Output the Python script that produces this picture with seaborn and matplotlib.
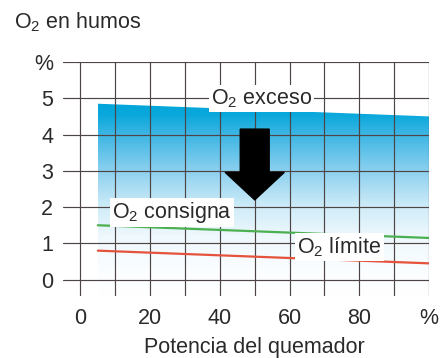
import numpy as np
import pandas as pd
import matplotlib
matplotlib.use("Agg")
import matplotlib.pyplot as plt
import matplotlib.transforms as mtransforms
from matplotlib.colors import LinearSegmentedColormap
import seaborn as sns

# ---- data ----
potencia = [5, 100]
o2_exceso = [4.85, 4.5]
o2_consigna = [1.5, 1.15]
o2_limite = [0.8, 0.45]
x_ticks = [0, 20, 40, 60, 80, 100]
x_tick_labels = ["0", "20", "40", "60", "80", "%"]
y_ticks = [0, 1, 2, 3, 4, 5, 6]
y_tick_labels = ["0", "1", "2", "3", "4", "5", "%"]

sns.set_style("white")
plt.rcParams["font.family"] = ["Liberation Sans", "DejaVu Sans"]
plt.rcParams["mathtext.fontset"] = "custom"
plt.rcParams["mathtext.rm"] = "Liberation Sans"
plt.rcParams["mathtext.it"] = "Liberation Sans:italic"

FS = 15.5
TXT = "#2a2a2a"
GRID = "#4d4545"

fig = plt.figure(figsize=(4.44, 3.58), dpi=100)
ax = fig.add_axes([63 / 444, 62 / 358, (429 - 63) / 444, (296 - 62) / 358])
ax.set_xlim(-5, 100)
ax.set_ylim(-0.45, 6)

# gradient fill below O2 exceso
df_ex = pd.DataFrame({"x": potencia, "y": o2_exceso})
poly = ax.fill_between(df_ex["x"], df_ex["y"], -0.45, color="none", lw=0)
cmap = LinearSegmentedColormap.from_list(
    "blu", [(0.0, "#ffffff"), (0.14, "#fafdff"), (0.31, "#eef8fd"),
            (0.46, "#d0ecf8"), (0.65, "#8bd0ef"), (0.84, "#3cb6e4"),
            (0.94, "#0aa8dc"), (1.0, "#03a5da")])
grad = np.linspace(0, 1, 256).reshape(-1, 1)
im = ax.imshow(grad, aspect="auto", cmap=cmap, origin="lower",
               extent=[min(potencia), max(potencia), -0.45, max(o2_exceso)],
               zorder=1)
im.set_clip_path(poly.get_paths()[0], transform=ax.transData)

# grid
ax.set_xticks(x_ticks)
ax.set_xticks([10, 30, 50, 70, 90], minor=True)
ax.set_yticks(y_ticks)
ax.set_xticklabels(x_tick_labels)
ax.set_yticklabels(y_tick_labels)
ax.grid(True, which="both", color=GRID, lw=0.85)
ax.set_axisbelow(False)
for s in ax.spines.values():
    s.set_visible(False)
ax.tick_params(axis="both", which="both", length=0, labelsize=FS, colors=TXT)
ax.tick_params(axis="y", pad=7)
ax.tick_params(axis="x", pad=9)

# lines
df = pd.DataFrame({"x": potencia * 2,
                   "y": o2_consigna + o2_limite,
                   "serie": ["consigna"] * 2 + ["limite"] * 2})
sns.lineplot(data=df, x="x", y="y", hue="serie",
             palette={"consigna": "#4cb050", "limite": "#e5533d"},
             lw=1.6, legend=False, ax=ax, zorder=3)
ax.set_xlabel("")
ax.set_ylabel("")

# labels with white boxes
bb = dict(facecolor="white", edgecolor="none", pad=1.5)
ax.text(52, 5.0, r"O$_\mathrm{2}$ exceso", fontsize=FS, color=TXT,
        ha="center", va="center", bbox=bb, zorder=4)
ax.text(26.3, 1.85, r"O$_\mathrm{2}$ consigna", fontsize=FS, color=TXT,
        ha="center", va="center", bbox=bb, zorder=4)
ax.text(74.3, 0.9, r"O$_\mathrm{2}$ límite", fontsize=FS, color=TXT,
        ha="center", va="center", bbox=bb, zorder=4)

# arrow
ax.arrow(50, 4.15, 0, -1.95, width=8.3, head_width=17, head_length=0.76,
         length_includes_head=True, color="black", zorder=5)

# titles
fig.text(14 / 444, 1 - 22 / 358, r"O$_\mathrm{2}$ en humos", fontsize=FS,
         color=TXT, ha="left", va="center")
trans = mtransforms.blended_transform_factory(ax.transData, fig.transFigure)
ax.text(50, 1 - 347 / 358, "Potencia del quemador", fontsize=FS, color=TXT,
        ha="center", va="center", transform=trans)

fig.savefig("out.png", dpi=100)
